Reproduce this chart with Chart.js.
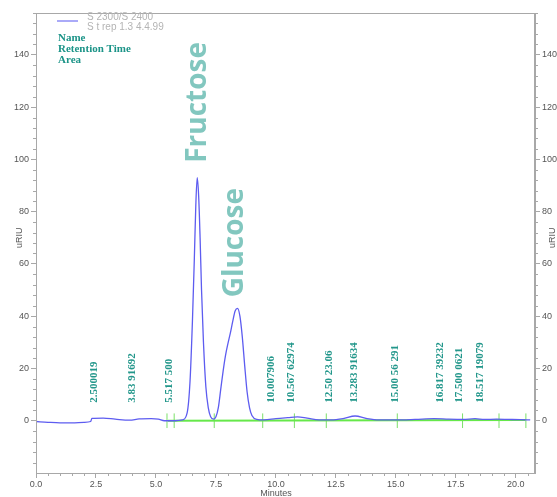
<!DOCTYPE html>
<html lang="en">
<head>
<meta charset="UTF-8">
<title>Chromatogram</title>
<script src="https://cdn.jsdelivr.net/npm/chart.js"></script>
<style>
    html, body { margin: 0; padding: 0; background: #fff; overflow: hidden; }
    #chart { display: block; }
</style>
</head>
<body>

<canvas id="chart" width="575" height="497"></canvas>

<script>
    // RI trace, minutes / uRIU
    const time = [0, 0.5, 1.0, 1.5, 2.0, 2.28, 2.33, 2.8, 3.3, 3.9, 4.3, 4.8, 5.1, 5.35, 5.8,
        6.1, 6.3, 6.42, 6.52, 6.6, 6.66, 6.72, 6.78, 6.84, 6.9, 6.98, 7.08, 7.18, 7.28, 7.4,
        7.5, 7.6, 7.7, 7.8, 7.9, 8.0, 8.1, 8.2, 8.3, 8.4, 8.5, 8.6, 8.7, 8.8, 8.9,
        9.0, 9.2, 9.5, 10.0, 10.5, 10.9, 11.3, 11.8, 12.3, 12.8, 13.3, 13.8, 14.3, 15.0, 15.8,
        16.6, 17.2, 17.8, 18.3, 18.7, 19.2, 19.7, 20.2, 20.6]
    const signal = [-0.3, -0.6, -0.8, -0.8, -0.6, -0.3, 0.9, 1.0, 0.6, 0.2, 0.7, 0.8, 0.6, 0, 0,
        0.3, 3, 15, 38, 62, 82, 93, 86, 70, 50, 30, 13, 5, 1.5, 0.6,
        1.5, 5, 12, 19, 25, 29.5, 33.5, 38, 42, 43, 40, 32, 21, 11, 5,
        2, 0.5, 0.3, 0.8, 1.2, 1.5, 1.0, 0.3, 0.3, 0.8, 1.8, 0.8, 0.3, 0.3, 0.5,
        0.8, 0.6, 0.5, 0.8, 0.5, 0.6, 0.5, 0.4, 0.3]

    // integration baseline and its marks
    const baseTime = [5.5, 20.4]
    const baseValue = [0, 0.3]
    const markTime = [5.46, 5.76, 7.43, 9.45, 10.77, 12.1, 15.06, 17.78, 19.3, 20.42]

    // peak table labels
    const peakTime = [2.42, 4.0, 5.55, 9.8, 10.63, 12.23, 13.28, 14.99, 16.83, 17.63, 18.52]
    const peakText = ['2.500019', '3.83 91692', '5.517 500', '10.007906', '10.567 62974', '12.50 23.06',
        '13.283 91634', '15.00 56 291', '16.817 39232', '17.500 0621', '18.517 19079']

    // compound names
    const nameText = ['Fructose', 'Glucose']
    const nameTime = [6.76, 8.31]
    const nameValue = [98.7, 47.2]

    const xTicks = [0, 2.5, 5, 7.5, 10, 12.5, 15, 17.5, 20]
    const yTicks = [0, 20, 40, 60, 80, 100, 120, 140]

    // green marks as short vertical segments split by nulls
    var markData = []
    for (var i = 0; i < markTime.length; i++) {
        markData.push({ x: markTime[i], y: -2.8 })
        markData.push({ x: markTime[i], y: 2.8 })
        markData.push({ x: markTime[i], y: null })
    }

    const extras = {
        id: 'extras',
        afterDraw(chart) {
            const ctx = chart.ctx
            const a = chart.chartArea
            const x = chart.scales.x
            const y = chart.scales.y

            ctx.save()

            // frame
            ctx.strokeStyle = '#a8a8a8'
            ctx.lineWidth = 1
            ctx.strokeRect(a.left + 0.5, a.top + 0.5, a.right - a.left - 1, a.bottom - a.top)

            // minor ticks
            ctx.beginPath()
            for (var v = -20; v <= 156; v += 4) {
                if (v % 20 == 0) continue
                var py = Math.round(y.getPixelForValue(v)) + 0.5
                ctx.moveTo(a.left - 3, py); ctx.lineTo(a.left, py)
                ctx.moveTo(a.right, py); ctx.lineTo(a.right + 3, py)
            }
            for (var k = 1; k * 0.5 <= 20.8; k++) {
                if (k % 5 == 0) continue
                var px = Math.round(x.getPixelForValue(k * 0.5)) + 0.5
                ctx.moveTo(px, a.bottom); ctx.lineTo(px, a.bottom + 3)
            }
            ctx.stroke()

            // axis titles
            ctx.fillStyle = '#555'
            ctx.font = '9px "Liberation Sans"'
            ctx.textAlign = 'center'
            ctx.textBaseline = 'middle'
            ctx.fillText('Minutes', x.getPixelForValue(10), 494)
            var ty = y.getPixelForValue(70)
            ctx.save(); ctx.translate(20, ty); ctx.rotate(-Math.PI / 2); ctx.fillText('uRIU', 0, 0); ctx.restore()
            ctx.save(); ctx.translate(553, ty); ctx.rotate(-Math.PI / 2); ctx.fillText('uRIU', 0, 0); ctx.restore()

            // legend
            ctx.strokeStyle = '#8e8ef6'
            ctx.lineWidth = 1.5
            ctx.beginPath()
            ctx.moveTo(a.left + 21, 21); ctx.lineTo(a.left + 42, 21)
            ctx.stroke()
            ctx.fillStyle = '#b4b4b4'
            ctx.font = '10px "Liberation Sans"'
            ctx.textAlign = 'left'
            ctx.fillText('S 2300/S 2400', a.left + 51, 17)
            ctx.fillText('S t rep 1.3 4.4.99', a.left + 51, 27)
            ctx.fillStyle = '#1c9488'
            ctx.font = 'bold 11px "Liberation Serif"'
            ctx.fillText('Name', a.left + 22, 38)
            ctx.fillText('Retention Time', a.left + 22, 49)
            ctx.fillText('Area', a.left + 22, 60)

            // peak labels
            ctx.font = 'bold 11px "Liberation Serif"'
            ctx.fillStyle = '#23978b'
            for (var i = 0; i < peakTime.length; i++) {
                ctx.save()
                ctx.translate(x.getPixelForValue(peakTime[i]), y.getPixelForValue(6.9))
                ctx.rotate(-Math.PI / 2)
                ctx.fillText(peakText[i], 0, 0)
                ctx.restore()
            }

            // compound names
            ctx.font = 'bold 28px "Open Sans"'
            ctx.fillStyle = '#82c7bf'
            for (var j = 0; j < nameText.length; j++) {
                ctx.save()
                ctx.translate(x.getPixelForValue(nameTime[j]), y.getPixelForValue(nameValue[j]))
                ctx.rotate(-Math.PI / 2)
                ctx.fillText(nameText[j], 0, 0)
                ctx.restore()
            }

            ctx.restore()
        }
    }

    const tickFont = { family: 'Liberation Sans', size: 9 }

    new Chart(document.getElementById('chart'), {
        type: 'line',
        data: {
            datasets: [
                {
                    data: time.map((t, i) => ({ x: t, y: signal[i] })),
                    borderColor: '#5d5cf0',
                    borderWidth: 1.3,
                    pointRadius: 0,
                    cubicInterpolationMode: 'monotone'
                },
                {
                    data: baseTime.map((t, i) => ({ x: t, y: baseValue[i] })),
                    borderColor: '#66e84a',
                    borderWidth: 2,
                    pointRadius: 0
                },
                {
                    data: markData,
                    borderColor: '#7be069',
                    borderWidth: 1,
                    pointRadius: 0,
                    spanGaps: false
                }
            ]
        },
        options: {
            responsive: false,
            animation: false,
            events: [],
            layout: { padding: { top: 13, left: 0, right: 0, bottom: 0 } },
            plugins: { legend: { display: false }, tooltip: { enabled: false } },
            scales: {
                x: {
                    type: 'linear',
                    min: 0,
                    max: 20.8,
                    afterBuildTicks: s => { s.ticks = xTicks.map(v => ({ value: v })) },
                    afterFit: s => { s.height = 24 },
                    grid: { drawOnChartArea: false, tickLength: 5, color: '#a8a8a8' },
                    border: { color: '#a8a8a8' },
                    ticks: { font: tickFont, color: '#555', padding: 1, maxRotation: 0, callback: v => v.toFixed(1) }
                },
                y: {
                    min: -20,
                    max: 156,
                    afterBuildTicks: s => { s.ticks = yTicks.map(v => ({ value: v })) },
                    afterFit: s => { s.width = 36 },
                    grid: { drawOnChartArea: false, tickLength: 5, color: '#a8a8a8' },
                    border: { color: '#a8a8a8' },
                    ticks: { font: tickFont, color: '#555', padding: 2 }
                },
                y2: {
                    position: 'right',
                    min: -20,
                    max: 156,
                    afterBuildTicks: s => { s.ticks = yTicks.map(v => ({ value: v })) },
                    afterFit: s => { s.width = 40 },
                    grid: { drawOnChartArea: false, tickLength: 5, color: '#a8a8a8' },
                    border: { color: '#a8a8a8' },
                    ticks: { font: tickFont, color: '#555', padding: 2 }
                }
            }
        },
        plugins: [extras]
    })
</script>
</body>
</html>
